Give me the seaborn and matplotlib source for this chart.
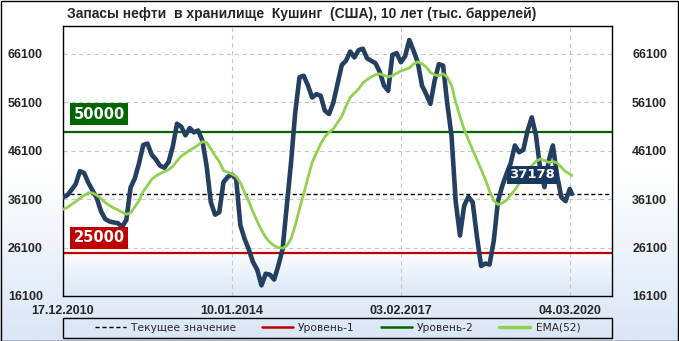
import numpy as np
import pandas as pd
import matplotlib
matplotlib.use("Agg")
import matplotlib.pyplot as plt
import seaborn as sns
from matplotlib.colors import LinearSegmentedColormap
from matplotlib.lines import Line2D
from matplotlib import font_manager

# ========== Data ==========
TITLE = "Запасы нефти  в хранилище  Кушинг  (США), 10 лет (тыс. баррелей)"

# week index from 17.12.2010
weeks = list(range(0, 481, 4)) + [482]

stock = [
    36500, 36900, 38000, 39200, 41900, 41500, 39500, 37900, 36300, 33600,
    32000, 31500, 31300, 31150, 30400, 31800, 38500, 40400, 43500, 47300,
    47600, 45300, 44300, 43000, 42600, 43800, 47000, 51700, 51100, 49300,
    50800, 49900, 50300, 48200, 43000, 35500, 32900, 33400, 39600, 40700,
    41200, 40300, 30700, 27900, 25700, 23100, 21500, 18300, 20700, 20500,
    19500, 22400, 25800, 34800, 43700, 54100, 61300, 61600, 59600, 57100,
    57800, 57500, 54400, 53700, 56000, 59900, 63800, 64700, 66600, 65400,
    66900, 67200, 65200, 64700, 64200, 62400, 59600, 58500, 65900, 66300,
    64400, 65600, 69000, 66800, 64400, 59600, 57800, 55800, 60600, 64000,
    63700, 55800, 49200, 35500, 28600, 34800, 36600, 35500, 28500, 22300,
    22800, 22600, 27500, 35700, 38800, 41300, 43500, 47200, 45800, 46300,
    50200, 53000, 49300, 42300, 38600, 44000, 47200, 41000, 36500, 35700,
    38200, 37178,
]

ema52 = [
    34000, 34400, 35000, 35600, 36300, 36900, 37400, 37400, 36900, 36200,
    35400, 34800, 34300, 33900, 33400, 33000, 33300, 34500, 35800, 37700,
    38900, 40200, 40900, 41400, 41800, 42200, 42900, 44000, 45000, 45600,
    46200, 46700, 47300, 48000, 47800, 46500, 45100, 43900, 42000, 41700,
    41300, 40800, 39500, 37500, 35600, 33500, 31500, 29700, 28200, 27200,
    26500, 26100, 26000, 26500, 27900, 30700, 34100, 37200, 40600, 43700,
    45600, 47500, 49000, 49900, 50600, 51900, 53200, 55300, 57100, 58000,
    58900, 60100, 60800, 61400, 61800, 62000, 61700, 61400, 61600, 62100,
    62600, 62900, 63200, 64000, 64500, 64100, 63400, 62300, 61800, 61600,
    62000, 61300, 59600, 56100, 53200, 50500, 48400, 46300, 44300, 42300,
    40200, 37800, 35800, 35000, 35300, 35900, 37000, 38000, 39300, 40400,
    41700, 43000, 43900, 44400, 44100, 43700, 43900, 43600, 42700, 41800,
    41300, 41000,
]

current_value = 37178
level1 = 25000
level2 = 50000

x_ticks = [0, 160, 320, 480]
x_labels = ["17.12.2010", "10.01.2014", "03.02.2017", "04.03.2020"]
y_ticks = [16100, 26100, 36100, 46100, 56100, 66100]
legend_labels = ["Текущее значение", "Уровень-1", "Уровень-2", "EMA(52)"]

df = pd.DataFrame({"week": weeks, "stock": stock, "ema": ema52})

# ========== Style ==========
sns.set_style("white")
plt.rcParams["font.family"] = ["DejaVu Sans"]
installed = {f.name for f in font_manager.fontManager.ttflist}
TICK_FONT = "Liberation Sans" if "Liberation Sans" in installed else "DejaVu Sans"

NAVY = "#243f60"
LIME = "#92d050"
RED = "#c00000"
GREEN = "#006400"

fig = plt.figure(figsize=(6.79, 3.41), dpi=100)

# figure background gradient
grad = np.linspace(0, 1, 256).reshape(-1, 1)
bg = fig.add_axes([0, 0, 1, 1], zorder=-5)
bg.imshow(grad, aspect="auto", origin="upper", extent=[0, 1, 0, 1],
          cmap=LinearSegmentedColormap.from_list("bg", ["#ffffff", "#ffffff", "#dae6f6"]))
bg.axis("off")

ax = fig.add_axes([63 / 679, 45 / 341, 549 / 679, 270 / 341])
ax.set_facecolor("white")

# light blue band under level 1
ax.imshow(grad, aspect="auto", origin="upper", extent=[0, 520, 16100, level1],
          cmap=LinearSegmentedColormap.from_list("band", ["#fbfdff", "#dbe7f7"]), zorder=0)

ax.axhline(level1, color=RED, lw=1.6, zorder=2)
ax.axhline(level2, color=GREEN, lw=1.6, zorder=2)
ax.axhline(current_value, color="black", lw=1.0, ls=(0, (3, 2)), zorder=2)

sns.lineplot(data=df, x="week", y="stock", color=NAVY, lw=3.3, ax=ax, zorder=4, legend=False)
sns.lineplot(data=df, x="week", y="ema", color=LIME, lw=2.0, ax=ax, zorder=5, legend=False)

ax.set_xlim(0, 520)
ax.set_ylim(16100, 71885)
ax.set_xticks(x_ticks)
ax.set_xticklabels(x_labels)
ax.set_yticks(y_ticks)
ax.set_yticklabels([str(v) for v in y_ticks])
ax.set_xlabel("")
ax.set_ylabel("")
ax.grid(True, color="#c8c8c8", ls=(0, (4, 3)), lw=0.8, zorder=1)
ax.set_axisbelow(True)

ax.tick_params(axis="y", left=False, right=False, labelleft=True, labelright=True, pad=11)
ax.tick_params(axis="x", bottom=False, pad=3)
for lab in ax.get_xticklabels() + ax.get_yticklabels():
    lab.set_fontfamily(TICK_FONT)
    lab.set_fontweight("bold")
    lab.set_fontsize(9)
for side in ["top", "bottom", "left", "right"]:
    ax.spines[side].set_color("black")
    ax.spines[side].set_linewidth(1.0)

# level labels
box_kw = dict(ha="left", va="bottom", color="white", fontsize=10.5, fontweight="bold",
              textcoords="offset points", xycoords=("axes fraction", "data"))
ax.annotate(str(level2), xy=(0.019, level2), xytext=(0, 7.4),
            bbox=dict(boxstyle="square,pad=0.25", fc=GREEN, ec="none"), zorder=6, **box_kw)
ax.annotate(str(level1), xy=(0.019, level1), xytext=(0, 5.6),
            bbox=dict(boxstyle="square,pad=0.25", fc=RED, ec="none"), zorder=6, **box_kw)

# current value label
ax.annotate(str(current_value), xy=(weeks[-1], stock[-1]), xytext=(-28.4, 13.7),
            textcoords="offset points", ha="center", va="center", color="white",
            fontsize=9.5, fontweight="bold",
            bbox=dict(boxstyle="square,pad=0.2", fc="#17375e", ec="none"), zorder=7)

# legend: frame spans the plot width, entries centred inside
handles = [
    Line2D([], [], color="black", lw=1.0, ls=(0, (3, 2))),
    Line2D([], [], color=RED, lw=1.8),
    Line2D([], [], color=GREEN, lw=1.8),
    Line2D([], [], color=LIME, lw=2.5),
]
ax.add_artist(plt.Rectangle((0, -0.156), 1, 0.075, transform=ax.transAxes, fill=False,
                            ec="black", lw=1.0, clip_on=False))
leg = ax.legend(handles, legend_labels, ncol=4, loc="center",
                bbox_to_anchor=(0.5, -0.1185), frameon=False, fontsize=7.7,
                handlelength=2.9, handletextpad=0.5, columnspacing=2.4,
                borderaxespad=0, borderpad=0)

fig.text(67 / 679, 1 - 14 / 341, TITLE, ha="left", va="center", fontsize=10,
         fontweight="bold", fontfamily=TICK_FONT)

fig.add_artist(plt.Rectangle((0.5 / 679, 0.5 / 341), 1 - 1.5 / 679, 1 - 1.5 / 341,
                             transform=fig.transFigure, fill=False, ec="black", lw=1.0))

fig.savefig("out.png", dpi=100)
plt.close(fig)
